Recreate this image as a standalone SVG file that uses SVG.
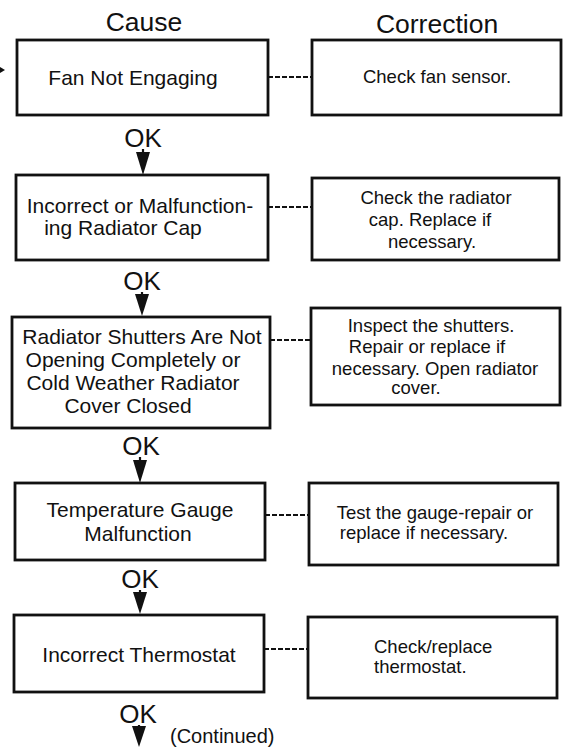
<svg xmlns="http://www.w3.org/2000/svg" width="565" height="755" viewBox="0 0 565 755">
<style>
text{font-family:"Liberation Sans",Arial,Helvetica,sans-serif;fill:#111}
.hdr{font-size:26.5px;text-anchor:middle}
.c{font-size:21px;text-anchor:middle}
.r{font-size:18.5px;text-anchor:middle}
.ok{font-size:26px;text-anchor:middle}
.box{fill:#fff;stroke:#111;stroke-width:2.8}
.dash{stroke:#111;stroke-width:2;stroke-dasharray:5 2;fill:none}
.arr{stroke:#111;stroke-width:2.2;fill:none}
.head{fill:#111}
</style>
<rect width="565" height="755" fill="#fff"/>
<text class="hdr" x="144" y="31">Cause</text>
<text class="hdr" x="437" y="33">Correction</text>

<g id="connectors">
<polygon points="0,67 5,70 0,73" fill="#111"/>
<line class="dash" x1="268" y1="77" x2="312" y2="77"/>
<line class="dash" x1="268" y1="207" x2="312" y2="207"/>
<line class="dash" x1="270" y1="340" x2="311" y2="340"/>
<line class="dash" x1="265" y1="515" x2="309" y2="515"/>
<line class="dash" x1="264" y1="649" x2="308" y2="649"/>
<path d="M143,149 V156" class="arr"/><path class="head" d="M136,152 L150,152 L143,175 Z"/>
<path d="M142,292 V298" class="arr"/><path class="head" d="M135,294 L149,294 L142,316 Z"/>
<path d="M140,457 V463" class="arr"/><path class="head" d="M133,460 L147,460 L140,483 Z"/>
<path d="M140,590 V596" class="arr"/><path class="head" d="M133,592 L147,592 L140,614 Z"/>
<path d="M139,725 V730" class="arr"/><path class="head" d="M132,726 L146,726 L139,747 Z"/>
<text class="ok" x="143" y="147">OK</text>
<text class="ok" x="142" y="290">OK</text>
<text class="ok" x="141" y="455">OK</text>
<text class="ok" x="140" y="588">OK</text>
<text class="ok" x="138" y="723">OK</text>
<text x="170" y="743" style="font-size:20px">(Continued)</text>
</g>

<g id="cause1">
<rect class="box" x="17" y="40" width="251" height="75"/>
<text class="c" x="133" y="85">Fan Not Engaging</text>
</g>
<g id="corr1">
<rect class="box" x="312" y="40" width="249" height="75"/>
<text class="r" x="437" y="83">Check fan sensor.</text>
</g>

<g id="cause2">
<rect class="box" x="16" y="175" width="252" height="85"/>
<text class="c" x="140" y="213">Incorrect or Malfunction-</text>
<text class="c" x="123" y="235">ing Radiator Cap</text>
</g>
<g id="corr2">
<rect class="box" x="312" y="178" width="247" height="82"/>
<text class="r" x="436" y="204">Check the radiator</text>
<text class="r" x="430" y="226">cap. Replace if</text>
<text class="r" x="432" y="248">necessary.</text>
</g>

<g id="cause3">
<rect class="box" x="12" y="317" width="258" height="111"/>
<text class="c" x="142" y="344">Radiator Shutters Are Not</text>
<text class="c" x="133" y="367">Opening Completely or</text>
<text class="c" x="133" y="390">Cold Weather Radiator</text>
<text class="c" x="128" y="413">Cover Closed</text>
</g>
<g id="corr3">
<rect class="box" x="311" y="308" width="249" height="97"/>
<text class="r" x="431" y="332">Inspect the shutters.</text>
<text class="r" x="427" y="353">Repair or replace if</text>
<text class="r" x="435" y="375">necessary. Open radiator</text>
<text class="r" x="416" y="394">cover.</text>
</g>

<g id="cause4">
<rect class="box" x="15" y="483" width="250" height="77"/>
<text class="c" x="140" y="517">Temperature Gauge</text>
<text class="c" x="138" y="541">Malfunction</text>
</g>
<g id="corr4">
<rect class="box" x="309" y="483" width="249" height="82"/>
<text class="r" x="435" y="519">Test the gauge-repair or</text>
<text class="r" x="424" y="539">replace if necessary.</text>
</g>

<g id="cause5">
<rect class="box" x="14" y="615" width="250" height="77"/>
<text class="c" x="139" y="662">Incorrect Thermostat</text>
</g>
<g id="corr5">
<rect class="box" x="308" y="617" width="249" height="81"/>
<text x="374" y="653" style="font-size:18.5px">Check/replace</text>
<text x="374" y="673" style="font-size:18.5px">thermostat.</text>
</g>
</svg>
